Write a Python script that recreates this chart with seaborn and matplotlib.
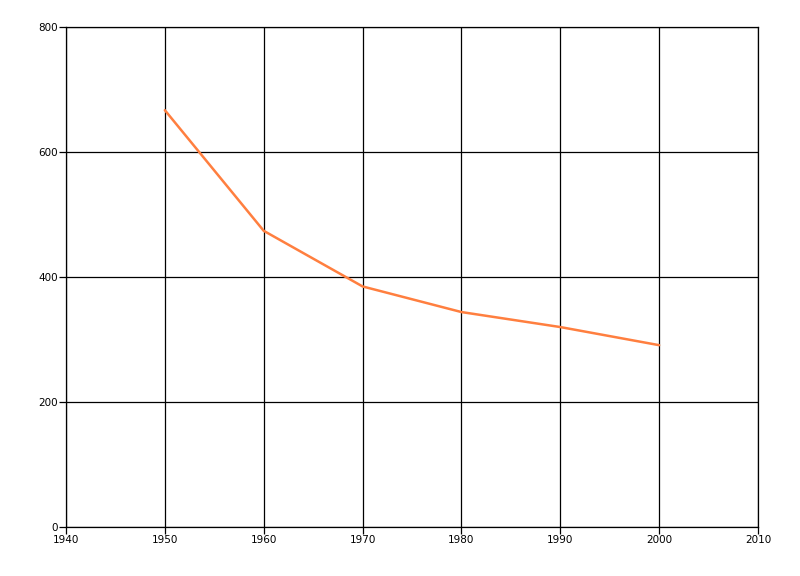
import pandas as pd
import seaborn as sns
import matplotlib
matplotlib.use('Agg')
import matplotlib.pyplot as plt

# donnees
years = [1950, 1960, 1970, 1980, 1990, 2000]
values = [667, 474, 385, 344, 320, 291]

df = pd.DataFrame({'year': years, 'value': values})

sns.set_style('white')
plt.rcParams['font.family'] = ['DejaVu Sans']

fig = plt.figure(figsize=(8, 5.76), dpi=100)
ax = fig.add_axes([0.0825, 0.085, 0.865, 0.868])

sns.lineplot(data=df, x='year', y='value', color='#FF7F3F', linewidth=1.8, ax=ax)

ax.set_xlim(1940, 2010)
ax.set_ylim(0, 800)
ax.set_xticks(range(1940, 2011, 10))
ax.set_yticks(range(0, 801, 200))
ax.grid(True, color='black', linewidth=0.9)
ax.set_axisbelow(True)
ax.set_xlabel('')
ax.set_ylabel('')
for s in ax.spines.values():
    s.set_color('black')
    s.set_linewidth(0.9)
ax.tick_params(axis='both', direction='out', length=5, width=0.9, color='black',
               labelcolor='black', labelsize=7.5, pad=1, bottom=True, left=True)

fig.savefig('out.png', dpi=100, facecolor='white')
